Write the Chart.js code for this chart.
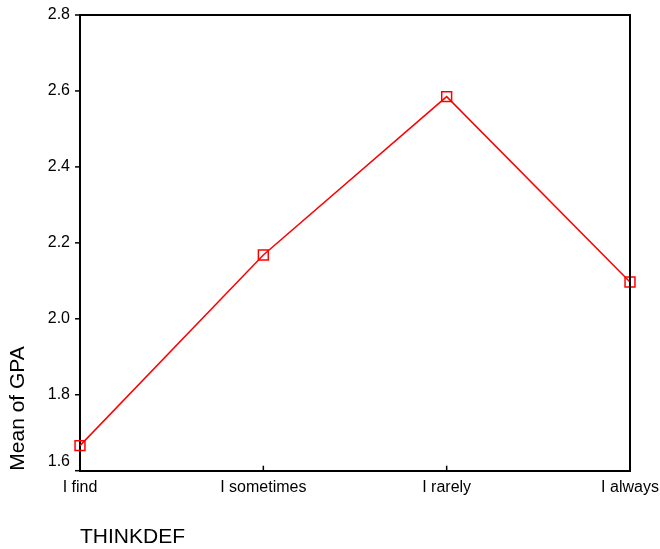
<!DOCTYPE html>
<html>
<head>
<meta charset="utf-8">
<script src="https://cdn.jsdelivr.net/npm/chart.js@4/dist/chart.umd.min.js"></script>
<style>
  html, body { margin: 0; padding: 0; background: #fff; }
  #wrap { width: 660px; height: 549px; position: relative; }
</style>
</head>
<body>
<div id="wrap"><canvas id="c" width="660" height="549"></canvas></div>
<script>
const categories = ["I find", "I sometimes", "I rarely", "I always"];
const gpaMeans = [1.666, 2.168, 2.585, 2.097];
const yTickValues = [1.6, 1.8, 2.0, 2.2, 2.4, 2.6, 2.8];
const xTitle = "THINKDEF";
const yTitle = "Mean of GPA";

const FONT = "'Liberation Sans', Arial, sans-serif";

const decorations = {
  id: 'decorations',
  afterDraw(chart) {
    const ctx = chart.ctx;
    const a = chart.chartArea;
    const xs = chart.scales.x, ys = chart.scales.y;
    ctx.save();
    ctx.strokeStyle = '#000';
    ctx.lineWidth = 2;
    ctx.beginPath();
    ctx.moveTo(a.left, a.top);
    ctx.lineTo(a.right, a.top);
    ctx.lineTo(a.right, a.bottom);
    ctx.stroke();
    ctx.lineWidth = 1.5;
    xs.ticks.forEach((t, i) => {
      const x = xs.getPixelForTick(i);
      ctx.beginPath();
      ctx.moveTo(x, a.bottom);
      ctx.lineTo(x, a.bottom - 5);
      ctx.stroke();
    });
    ctx.fillStyle = '#000';
    ctx.font = '16px ' + FONT;
    ctx.textAlign = 'right';
    ctx.textBaseline = 'middle';
    yTickValues.forEach(v => {
      const y = ys.getPixelForValue(v);
      ctx.beginPath();
      ctx.moveTo(a.left, y);
      ctx.lineTo(a.left - 5, y);
      ctx.stroke();
      const ly = Math.min(y, a.bottom - 9);
      ctx.fillText(v.toFixed(1), a.left - 10, ly);
    });
    ctx.save();
    ctx.translate(18, a.bottom);
    ctx.rotate(-Math.PI / 2);
    ctx.font = '21px ' + FONT;
    ctx.textAlign = 'left';
    ctx.textBaseline = 'middle';
    ctx.fillText(yTitle, 0, 0);
    ctx.restore();
    ctx.font = '21px ' + FONT;
    ctx.textAlign = 'left';
    ctx.textBaseline = 'middle';
    ctx.fillText(xTitle, a.left, 537);
    ctx.restore();
  }
};

new Chart(document.getElementById('c'), {
  type: 'line',
  data: {
    labels: categories,
    datasets: [{
      data: gpaMeans,
      borderColor: '#ff0000',
      borderWidth: 1.5,
      pointStyle: 'rect',
      pointRadius: 7,
      pointHoverRadius: 7,
      pointBorderColor: '#ff0000',
      pointBorderWidth: 1.5,
      pointBackgroundColor: 'rgba(0,0,0,0)',
      fill: false,
      tension: 0
    }]
  },
  options: {
    responsive: false,
    animation: false,
    devicePixelRatio: 1,
    layout: { padding: { top: 15, right: 30, left: 0, bottom: 0 } },
    plugins: { legend: { display: false }, tooltip: { enabled: false } },
    scales: {
      x: {
        type: 'category',
        offset: false,
        grid: { display: false, drawTicks: false },
        border: { display: true, color: '#000', width: 2 },
        ticks: { color: '#000', font: { family: FONT, size: 16 }, padding: 7, maxRotation: 0, autoSkip: false },
        afterFit(scale) { scale.height = 78.3; scale.paddingLeft = 0; scale.paddingRight = 0; }
      },
      y: {
        min: 1.6,
        max: 2.8,
        grid: { display: false, drawTicks: false },
        border: { display: true, color: '#000', width: 2 },
        ticks: { display: false, stepSize: 0.2 },
        afterFit(scale) { scale.width = 80; scale.paddingTop = 0; scale.paddingBottom = 0; }
      }
    }
  },
  plugins: [decorations]
});
</script>
</body>
</html>
